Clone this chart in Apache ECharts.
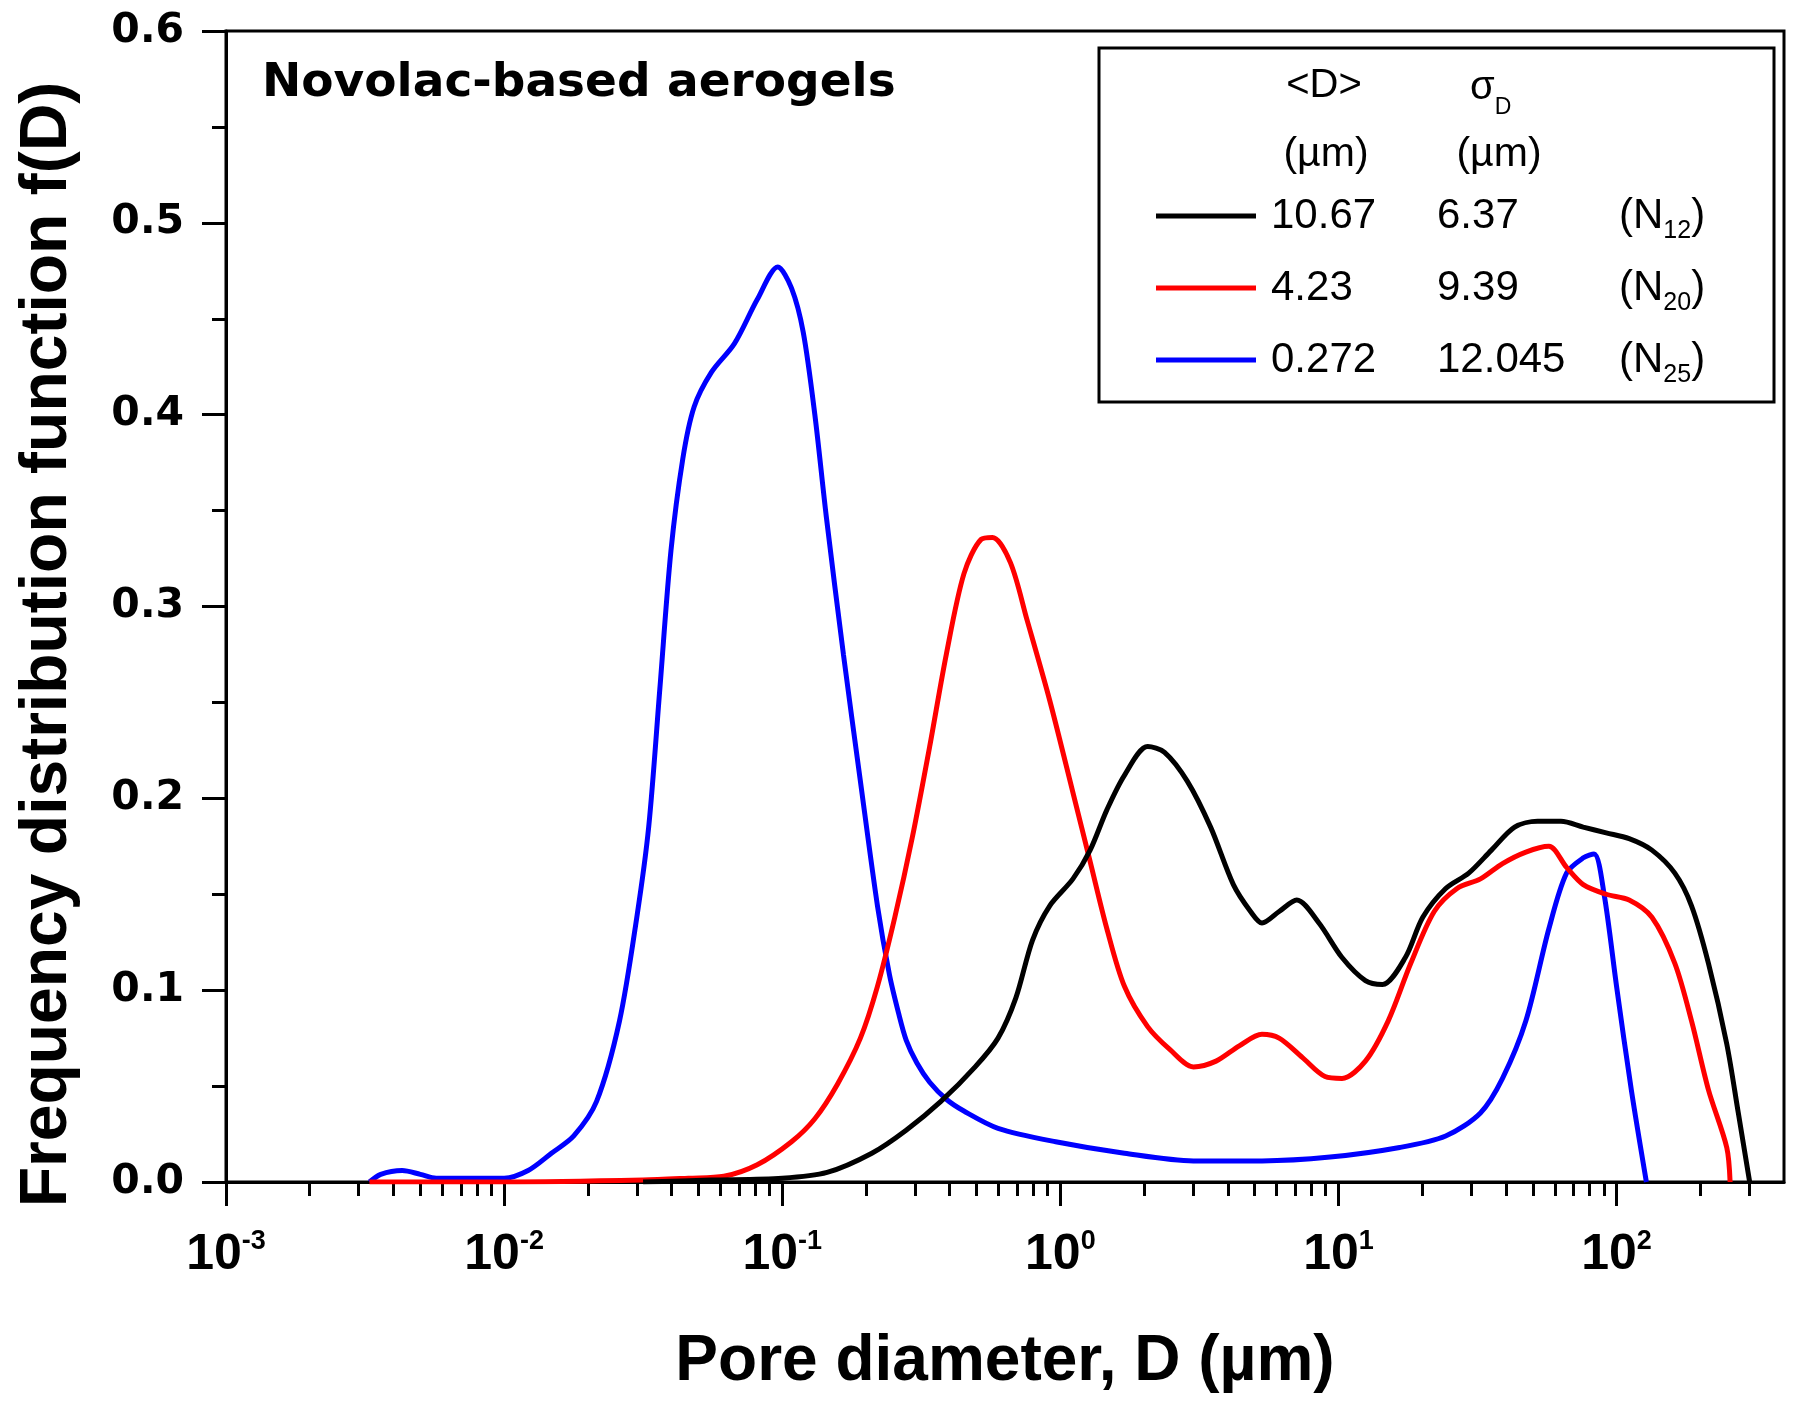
<!DOCTYPE html>
<html>
<head>
<meta charset="utf-8">
<script src="https://cdn.jsdelivr.net/npm/echarts@6/dist/echarts.min.js"></script>
<style>
html,body{margin:0;padding:0;background:#fff;}
#chart{width:1800px;height:1408px;}
</style>
</head>
<body>
<div id="chart"></div>
<script>
// ---------------- data ----------------
const seriesNames = ['N12', 'N20', 'N25'];
const meanD = ['10.67', '4.23', '0.272'];
const sigmaD = ['6.37', '9.39', '12.045'];
const subIdx = ['12', '20', '25'];
const colors = ['#000000', '#ff0000', '#0000ff'];

// N12 (black)
const dN12 = [0.0316,0.0556,0.1,0.145,0.210,0.279,0.372,0.494,0.597,0.692,0.794,0.916,1.11,1.28,1.47,1.70,2.06,2.37,2.86,3.47,4.19,4.83,5.31,6.12,7.08,8.51,10.3,12.5,14.4,17.4,20.1,24.3,29.4,35.5,43.0,52.0,63.1,75.9,91.8,111,134,162,186,214,249,274,301];
const fN12 = [0.0,0.001,0.002,0.005,0.015,0.027,0.042,0.060,0.075,0.096,0.126,0.144,0.158,0.173,0.194,0.212,0.227,0.224,0.209,0.185,0.155,0.141,0.135,0.141,0.147,0.135,0.117,0.105,0.103,0.117,0.138,0.153,0.161,0.173,0.185,0.188,0.188,0.185,0.182,0.179,0.173,0.161,0.144,0.114,0.072,0.036,0.0];

// N20 (red)
const dN20 = [0.00328,0.01,0.0316,0.046,0.0617,0.0813,0.108,0.131,0.158,0.191,0.220,0.254,0.293,0.339,0.389,0.450,0.519,0.570,0.661,0.759,0.916,1.11,1.28,1.47,1.70,2.06,2.48,3.01,3.63,4.40,5.31,6.12,7.41,8.95,10.3,12.5,15.1,18.2,22.1,26.7,32.4,38.9,47.2,57.1,66.1,75.9,91.8,111,134,162,186,214,249,256];
const fN20 = [0.0,0.0,0.001,0.002,0.003,0.009,0.021,0.033,0.051,0.075,0.102,0.138,0.179,0.227,0.275,0.317,0.335,0.336,0.323,0.293,0.251,0.203,0.167,0.132,0.102,0.081,0.069,0.060,0.063,0.071,0.077,0.075,0.065,0.055,0.054,0.063,0.084,0.114,0.141,0.153,0.158,0.166,0.172,0.175,0.164,0.155,0.150,0.147,0.138,0.114,0.084,0.048,0.018,0.0];

// N25 (blue)
const dN25 = [0.00328,0.0036,0.0043,0.005,0.0057,0.0075,0.0100,0.0122,0.0148,0.0178,0.0215,0.026,0.030,0.0331,0.0363,0.0398,0.0439,0.0482,0.0556,0.0673,0.0813,0.0964,0.108,0.119,0.131,0.144,0.166,0.191,0.220,0.243,0.262,0.279,0.305,0.339,0.390,0.450,0.597,0.962,1.70,3.01,5.31,9.33,16.6,24.3,32.4,38.9,47.2,57.1,66.1,76.0,83.0,90.2,100,113,128];
const fN25 = [0.0,0.004,0.006,0.004,0.002,0.002,0.002,0.006,0.015,0.024,0.042,0.084,0.138,0.185,0.257,0.329,0.377,0.404,0.422,0.437,0.460,0.477,0.466,0.443,0.400,0.347,0.275,0.209,0.144,0.108,0.088,0.074,0.062,0.052,0.043,0.037,0.028,0.021,0.015,0.011,0.011,0.013,0.018,0.024,0.036,0.054,0.084,0.132,0.161,0.169,0.171,0.150,0.102,0.048,0.0];

// axis ticks
const majorTicksX = [0.001, 0.01, 0.1, 1, 10, 100];
const minorTicksX = [0.002,0.003,0.004,0.005,0.006,0.007,0.008,0.009,
  0.02,0.03,0.04,0.05,0.06,0.07,0.08,0.09,
  0.2,0.3,0.4,0.5,0.6,0.7,0.8,0.9,
  2,3,4,5,6,7,8,9,
  20,30,40,50,60,70,80,90,
  200,300];
const xMin = 0.001, xMax = 400;
const yMin = 0, yMax = 0.6, yStep = 0.1;

// ---------------- chart ----------------
const pairs = (d, f) => d.map((v, i) => [v, f[i]]);
const seriesData = [pairs(dN12, fN12), pairs(dN20, fN20), pairs(dN25, fN25)];

const chart = echarts.init(document.getElementById('chart'), null, {renderer: 'canvas'});

const G = {left: 226, right: 16, top: 31, bottom: 226};
const legendFont = 'Liberation Sans, Arial, sans-serif';
const tickFont = 'Liberation Sans Narrow, Liberation Sans, Arial, sans-serif';

const option = {
  backgroundColor: '#ffffff',
  animation: false,
  grid: {left: G.left, right: G.right, top: G.top, bottom: G.bottom, show: true, borderColor: '#000', borderWidth: 3},
  xAxis: [
    {
      type: 'log', logBase: 10, min: xMin, max: xMax,
      position: 'bottom',
      name: 'Pore diameter, D (µm)',
      nameLocation: 'middle', nameGap: 148,
      nameTextStyle: {fontFamily: 'Liberation Sans, Arial, sans-serif', fontWeight: 'bold', fontSize: 64, color: '#000'},
      axisLine: {show: true, lineStyle: {color: '#000', width: 3}},
      axisTick: {show: true, inside: false, length: 24, lineStyle: {color: '#000', width: 3}, customValues: majorTicksX},
      axisLabel: {
        show: true, margin: 46, customValues: majorTicksX,
        formatter: v => '{b|10}{s|' + Math.round(Math.log10(v)) + '}',
        rich: {
          b: {fontFamily: tickFont, fontWeight: 'bold', fontSize: 50, color: '#000', lineHeight: 54},
          s: {fontFamily: tickFont, fontWeight: 'bold', fontSize: 27, color: '#000', verticalAlign: 'top', lineHeight: 54}
        }
      },
      splitLine: {show: false}
    },
    {
      type: 'log', logBase: 10, min: xMin, max: xMax,
      position: 'bottom', gridIndex: 0,
      axisLine: {show: false},
      axisTick: {show: true, inside: false, length: 14, lineStyle: {color: '#000', width: 3}, customValues: minorTicksX},
      axisLabel: {show: false},
      splitLine: {show: false}
    }
  ],
  yAxis: {
    type: 'value', min: yMin, max: yMax, interval: yStep,
    name: 'Frequency distribution function f(D)',
    nameLocation: 'middle', nameGap: 145,
    nameTextStyle: {fontFamily: 'Liberation Sans, Arial, sans-serif', fontWeight: 'bold', fontSize: 66, color: '#000', padding: [0, 76, 0, 0]},
    axisLine: {show: true, lineStyle: {color: '#000', width: 3}},
    axisTick: {show: true, inside: false, length: 24, lineStyle: {color: '#000', width: 3}},
    minorTick: {show: true, splitNumber: 2, length: 14, lineStyle: {color: '#000', width: 3}},
    axisLabel: {
      margin: 42, formatter: v => v.toFixed(1),
      fontFamily: 'DejaVu Sans, sans-serif', fontWeight: 'bold', fontSize: 41, color: '#000'
    },
    splitLine: {show: false}
  },
  legend: {
    show: true, orient: 'vertical', left: 1156, top: 195,
    icon: 'rect',
    itemWidth: 100, itemHeight: 5, itemGap: 23, padding: 0,
    data: seriesNames,
    formatter: name => {
      const i = seriesNames.indexOf(name);
      return '{a|' + meanD[i] + '}{b|' + sigmaD[i] + '}{c|(N}{d|' + subIdx[i] + '}{c|)}';
    },
    textStyle: {
      rich: {
        a: {fontFamily: legendFont, fontSize: 42, color: '#000', width: 166, lineHeight: 44, padding: [0, 0, 0, 10]},
        b: {fontFamily: legendFont, fontSize: 42, color: '#000', width: 182, lineHeight: 44},
        c: {fontFamily: legendFont, fontSize: 42, color: '#000', lineHeight: 44},
        d: {fontFamily: legendFont, fontSize: 25, color: '#000', verticalAlign: 'bottom', lineHeight: 56}
      }
    }
  },
  graphic: [
    {type: 'rect', shape: {x: 1099, y: 48, width: 675, height: 354}, style: {fill: 'none', stroke: '#000', lineWidth: 3}, z: 10},
    {type: 'text', x: 1324, y: 86, style: {text: '<D>', font: '40px Liberation Sans, Arial, sans-serif', fill: '#000', align: 'center', verticalAlign: 'middle'}, z: 10},
    {type: 'text', x: 1326, y: 155, style: {text: '(µm)', font: '41px Liberation Sans, Arial, sans-serif', fill: '#000', align: 'center', verticalAlign: 'middle'}, z: 10},
    {type: 'text', x: 1499, y: 155, style: {text: '(µm)', font: '41px Liberation Sans, Arial, sans-serif', fill: '#000', align: 'center', verticalAlign: 'middle'}, z: 10},
    {type: 'text', x: 1470, y: 88, style: {text: '{g|σ}{s|D}', fill: '#000', align: 'left', verticalAlign: 'middle',
      rich: {g: {fontFamily: 'Liberation Sans, Arial, sans-serif', fontSize: 40, fill: '#000'}, s: {fontFamily: 'Liberation Sans, Arial, sans-serif', fontSize: 23, verticalAlign: 'bottom', lineHeight: 62, fill: '#000'}}}, z: 10},
    {type: 'text', x: 262, y: 84, style: {text: 'Novolac-based aerogels', font: 'bold 47px DejaVu Sans, sans-serif', fill: '#000', align: 'left', verticalAlign: 'middle'}, z: 10}
  ],
  series: seriesData.map((d, i) => ({
    name: seriesNames[i],
    type: 'line',
    xAxisIndex: 0, yAxisIndex: 0,
    data: d,
    symbol: 'none', showSymbol: false,
    smooth: 0.3,
    lineStyle: {color: colors[i], width: 5},
    itemStyle: {color: colors[i]},
    z: 3 - i
  }))
};
chart.setOption(option);
</script>
</body>
</html>
